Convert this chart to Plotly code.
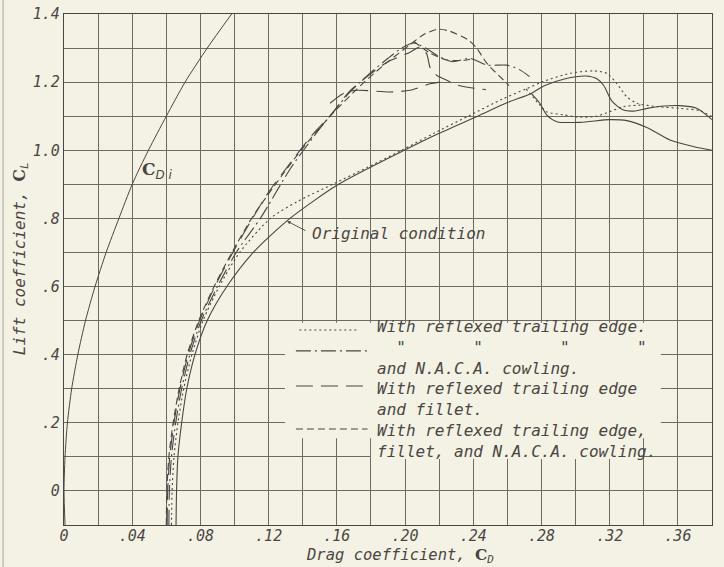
import plotly.graph_objects as go

# ---------------- data ----------------
cdi_cl = [-0.1, 0.0, 0.1, 0.2, 0.3, 0.4, 0.5, 0.6, 0.7, 0.8, 0.9, 1.0, 1.1, 1.2, 1.3, 1.4]
cdi_cd = [0.0006, 0.0, 0.0006, 0.0020, 0.0045, 0.0081, 0.0126, 0.0182, 0.0247, 0.0322,
          0.0400, 0.0495, 0.0600, 0.0710, 0.0840, 0.0983]

orig_cl = [-0.1, 0.0, 0.1, 0.2, 0.3, 0.4, 0.5, 0.6, 0.7, 0.8, 0.9, 1.0, 1.05, 1.1, 1.14, 1.167,
           1.19, 1.21, 1.218, 1.21, 1.19, 1.145, 1.118, 1.115, 1.123, 1.13, 1.131, 1.123, 1.09]
orig_cd = [0.0657, 0.0660, 0.0668, 0.0690, 0.0720, 0.0768, 0.0840, 0.0955, 0.1110, 0.1325, 0.1610,
           0.1995, 0.2200, 0.2425, 0.2600, 0.2740, 0.2820, 0.2940, 0.3060, 0.3125, 0.3165, 0.3212,
           0.3280, 0.3340, 0.3420, 0.3520, 0.3610, 0.3710, 0.3800]
orig_b_cl = [1.167, 1.138, 1.104, 1.084, 1.082, 1.090, 1.087, 1.067, 1.030, 1.011, 1.0]
orig_b_cd = [0.2740, 0.2790, 0.2830, 0.2890, 0.3026, 0.3200, 0.3300, 0.3418, 0.3554, 0.3690, 0.3800]

refl_cl = [-0.1, 0.0, 0.1, 0.2, 0.3, 0.4, 0.5, 0.6, 0.7, 0.8, 0.85, 0.9, 0.95, 1.0, 1.05, 1.1,
           1.15, 1.18, 1.20, 1.226, 1.233, 1.226, 1.197, 1.157, 1.138, 1.128, 1.123, 1.116, 1.099]
refl_cd = [0.0630, 0.0634, 0.0645, 0.0668, 0.0702, 0.0750, 0.0815, 0.0910, 0.1030, 0.1210, 0.1370,
           0.1575, 0.1780, 0.1980, 0.2170, 0.2370, 0.2570, 0.2710, 0.2800, 0.2968, 0.3104, 0.3182,
           0.3240, 0.3300, 0.3360, 0.3480, 0.3610, 0.3730, 0.3800]
refl_b_cl = [1.18, 1.133, 1.113, 1.104, 1.097, 1.100, 1.113, 1.128, 1.133]
refl_b_cd = [0.2710, 0.2790, 0.2830, 0.2930, 0.3026, 0.3124, 0.3200, 0.3280, 0.3400]

cowl_cl = [-0.1, 0.0, 0.1, 0.2, 0.3, 0.4, 0.5, 0.6, 0.7, 0.803, 0.948, 1.055, 1.128, 1.167, 1.22,
           1.27, 1.30, 1.315, 1.30, 1.275, 1.26, 1.27, 1.25, 1.25, 1.236, 1.216]
cowl_cd = [0.0615, 0.0618, 0.0630, 0.0655, 0.0690, 0.0738, 0.0805, 0.0900, 0.1010, 0.1155, 0.1330,
           0.1487, 0.1604, 0.1670, 0.1780, 0.1900, 0.1980, 0.2050, 0.2120, 0.2200, 0.2280, 0.2380,
           0.2480, 0.2596, 0.2674, 0.2730]

fillet_cl = [-0.1, 0.0, 0.1, 0.2, 0.3, 0.4, 0.5, 0.6, 0.7, 0.8, 0.88, 0.958, 1.045, 1.108, 1.171,
             1.225, 1.26, 1.288, 1.303, 1.283, 1.243, 1.22, 1.21, 1.19, 1.178]
fillet_cd = [0.0605, 0.0608, 0.0620, 0.0645, 0.0680, 0.0728, 0.0795, 0.0885, 0.0990, 0.1105, 0.1204,
             0.1320, 0.1456, 0.1573, 0.1670, 0.1800, 0.1900, 0.2030, 0.2088, 0.2127, 0.2147, 0.2186,
             0.2225, 0.2315, 0.2474]
fillet_b_cl = [1.138, 1.167, 1.176, 1.171, 1.176, 1.195, 1.20]
fillet_b_cd = [0.1560, 0.1638, 0.1717, 0.1910, 0.2030, 0.2147, 0.2205]

full_cl = [-0.1, 0.0, 0.1, 0.2, 0.3, 0.4, 0.5, 0.6, 0.7, 0.8, 0.9, 1.0, 1.1, 1.2, 1.26, 1.31,
           1.34, 1.355, 1.35, 1.324, 1.30, 1.255, 1.197, 1.19]
full_cd = [0.0600, 0.0603, 0.0615, 0.0640, 0.0675, 0.0722, 0.0790, 0.0880, 0.0985, 0.1100, 0.1240,
           0.1390, 0.1560, 0.1760, 0.1900, 0.2030, 0.2110, 0.2190, 0.2260, 0.2370, 0.2420, 0.2480,
           0.2596, 0.2610]
full_b_cl = [1.32, 1.285, 1.265, 1.265, 1.27]
full_b_cd = [0.2050, 0.2147, 0.2245, 0.2362, 0.2400]

x_tick_vals = [0, 0.04, 0.08, 0.12, 0.16, 0.20, 0.24, 0.28, 0.32, 0.36]
x_tick_text = ["0", ".04", ".08", ".12", ".16", ".20", ".24", ".28", ".32", ".36"]
y_tick_vals = [0, 0.2, 0.4, 0.6, 0.8, 1.0, 1.2, 1.4]
y_tick_text = ["0", ".2", ".4", ".6", ".8", "1.0", "1.2", "1.4"]

NB = "\u00a0"
legend_rows = [
    "With reflexed trailing edge.",
    NB * 2 + "\"" + NB * 7 + "\"" + NB * 8 + "\"" + NB * 7 + "\"",
    "and N.A.C.A. cowling.",
    "With reflexed trailing edge",
    "and fillet.",
    "With reflexed trailing edge,",
    "fillet, and N.A.C.A. cowling.",
]

# ---------------- style ----------------
BG = "#f4f2e4"
INK = "#4a4542"
GRID = "#6e6964"
FONT = "DejaVu Sans Mono"
SERIF_C = "<span style='font-family:DejaVu Serif;font-style:normal'><b>C</b></span>"

DOT = "2px,3px"
DASHDOT = "15px,4px,2px,4px"
LONG = "17px,8px"
SHORT = "7px,4px"

fig = go.Figure()

def add(cd, cl, dash, width=1.1):
    fig.add_trace(go.Scatter(x=cd, y=cl, mode="lines", showlegend=False, hoverinfo="skip",
                             line=dict(color=INK, width=width, dash=dash,
                                       shape="spline", smoothing=0.7)))

add(cdi_cd, cdi_cl, "solid", 1.0)
add(orig_cd, orig_cl, "solid")
add(orig_b_cd, orig_b_cl, "solid")
add(refl_cd, refl_cl, DOT)
add(refl_b_cd, refl_b_cl, DOT)
add(cowl_cd, cowl_cl, DASHDOT)
add(fillet_cd, fillet_cl, LONG)
add(fillet_b_cd, fillet_b_cl, LONG)
add(full_cd, full_cl, SHORT)
add(full_b_cd, full_b_cl, SHORT)

shapes = []
# legend backing (gridlines interrupted behind the legend)
shapes.append(dict(type="rect", xref="x", yref="y", x0=0.1296, x1=0.350, y0=0.155, y1=0.494,
                   fillcolor=BG, line=dict(width=0), layer="between"))
shapes.append(dict(type="rect", xref="x", yref="y", x0=0.180, x1=0.337, y0=0.094, y1=0.16,
                   fillcolor=BG, line=dict(width=0), layer="between"))
# legend samples
samples = [(0.4725, DOT, 0.138, 0.172), (0.411, DASHDOT, 0.136, 0.178),
           (0.308, LONG, 0.136, 0.180), (0.182, SHORT, 0.136, 0.178)]
for yv, dash, xa, xb in samples:
    shapes.append(dict(type="line", xref="x", yref="y", x0=xa, x1=xb, y0=yv, y1=yv,
                       line=dict(color=INK, width=1.1, dash=dash)))
# scan edge on the left
shapes.append(dict(type="line", xref="paper", yref="paper", x0=-0.094, x1=-0.094, y0=-0.09, y1=1.03,
                   line=dict(color="#a8a49a", width=1)))
fig.update_layout(shapes=shapes)

txt_font = dict(family=FONT, size=16, color=INK, style="italic")
ann = []
ann.append(dict(x=0.1825, y=0.2994, xref="x", yref="y", text="<br>".join(legend_rows),
                showarrow=False, xanchor="left", yanchor="middle", align="left", font=txt_font))
ann.append(dict(x=0.1443, y=0.757, xref="x", yref="y", text="Original condition", showarrow=False,
                xanchor="left", yanchor="middle", font=txt_font))
ann.append(dict(x=0.1308, y=0.792, ax=0.1425, ay=0.762, xref="x", yref="y", axref="x", ayref="y",
                text="", showarrow=True, arrowhead=2, arrowsize=0.8, arrowwidth=0.9, arrowcolor=INK))
ann.append(dict(x=0.0446, y=0.942, xref="x", yref="y",
                text=SERIF_C + "<sub><i>D i</i></sub>",
                showarrow=False, xanchor="left", yanchor="middle",
                font=dict(family="DejaVu Sans", size=17, color=INK)))
# axis titles
ann.append(dict(x=0.5185, y=-0.0822, xref="paper", yref="paper",
                text="Drag coefficient, " + SERIF_C + "<sub>D</sub>", showarrow=False,
                xanchor="center", yanchor="bottom", borderpad=0,
                font=dict(family=FONT, size=15.5, color=INK, style="italic")))
ann.append(dict(x=-0.068, y=0.522, xref="paper", yref="paper", textangle=-90,
                text="Lift coefficient, " + SERIF_C + "<sub>L</sub>", showarrow=False,
                xanchor="center", yanchor="middle", font=dict(family=FONT, size=16, color=INK, style="italic")))
fig.update_layout(annotations=ann)

axis_common = dict(showline=True, linecolor=INK, linewidth=1.2, mirror=True, automargin=False,
                   showgrid=True, gridcolor=GRID, gridwidth=1, zeroline=False, ticks="",
                   tickfont=dict(family=FONT, size=15, color=INK, style="italic"))
fig.update_xaxes(range=[0, 0.38], tickvals=x_tick_vals, ticktext=x_tick_text, ticklabelstandoff=-3,
                 minor=dict(dtick=0.02, tick0=0, showgrid=True, gridcolor=GRID, gridwidth=1),
                 **axis_common)
fig.update_yaxes(range=[-0.1, 1.4], tickvals=y_tick_vals, ticktext=y_tick_text,
                 minor=dict(dtick=0.1, tick0=0, showgrid=True, gridcolor=GRID, gridwidth=1),
                 **axis_common)

fig.update_layout(width=724, height=567, margin=dict(l=64, r=12, t=14, b=42),
                  paper_bgcolor=BG, plot_bgcolor=BG, showlegend=False)

fig.write_html("out.html", config={"displayModeBar": False},
               post_script="document.body.style.margin='0';document.body.style.overflow='hidden';"
                           "document.body.style.background='" + BG + "';")
